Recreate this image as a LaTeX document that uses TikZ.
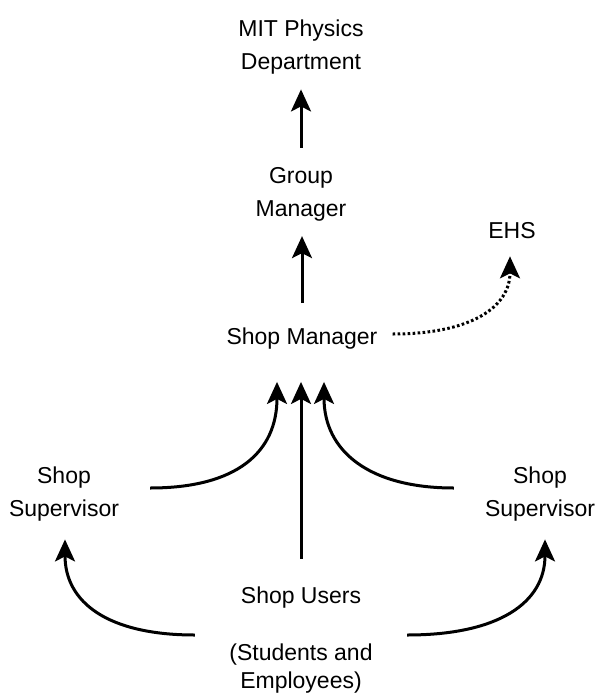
\documentclass[tikz,border=0pt]{standalone}
\usepackage{fontspec}
\setmainfont{Liberation Sans}
\usetikzlibrary{arrows.meta}

\tikzset{
  lbl/.style={inner sep=0pt, align=center, font=\fontsize{23}{33}\selectfont},
  sup/.style={lbl, inner xsep=31pt},
  arr/.style={-{Stealth[length=22pt, width=20pt, inset=5pt]}, line width=3pt},
  dots/.style={arr, dash pattern=on 2.6pt off 2.4pt}
}

\begin{document}
\begin{tikzpicture}[x=1pt, y=-1pt]

    \useasboundingbox (0,0) rectangle (598,698);

    \node[lbl] (mit) at (301,47) {MIT Physics\\Department};
    \node[lbl] (group) at (301,194) {Group\\Manager};
    \node[lbl] (manager) at (302,339) {Shop Manager};
    \node[lbl] (ehs) at (512,231) {EHS};

    \node[sup] (supl) at (64,494) {Shop\\Supervisor};
    \node[sup] (supr) at (540,494) {Shop\\Supervisor};

    \node[lbl, minimum width=212pt] (users) at (301,640)
        {Shop Users\\[24pt](Students and\\[-5pt]Employees)};

    \draw[arr, shorten <=19pt, shorten >=15pt] (group) -- (mit);
    \draw[arr, shorten <=25pt, shorten >=15pt] (manager.north) -- (manager.north |- group.south);

    \draw[dots] ([xshift=15pt,yshift=5pt]manager.east)
        .. controls +(78,0) and +(0,51) .. ([xshift=-2pt,yshift=-17pt]ehs.south);

    \draw[arr] ([yshift=28pt]users.north) -- ([xshift=-1pt,yshift=-32pt]manager.south);
    \draw[arr] ([yshift=6pt]supl.east)
        .. controls +(87,0) and +(0,70) .. ([xshift=-25pt,yshift=-32pt]manager.south);
    \draw[arr] ([yshift=6pt]supr.west)
        .. controls +(-85,0) and +(0,69) .. ([xshift=22pt,yshift=-32pt]manager.south);

    \draw[arr] ([yshift=5pt]users.west)
        .. controls +(-87,0) and +(0,63) .. ([xshift=1pt,yshift=-18pt]supl.south);
    \draw[arr] ([yshift=5pt]users.east)
        .. controls +(92,0) and +(0,63) .. ([xshift=5pt,yshift=-18pt]supr.south);

\end{tikzpicture}
\end{document}
